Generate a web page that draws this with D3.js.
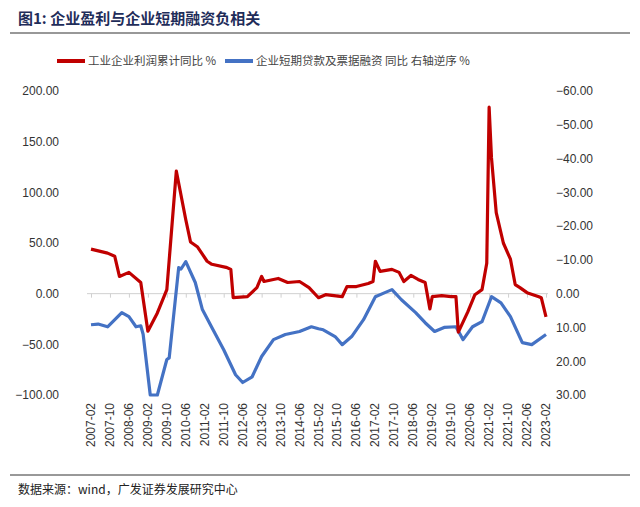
<!DOCTYPE html>
<html><head><meta charset="utf-8">
<script src="https://cdn.jsdelivr.net/npm/d3@7"></script>
<style>body{margin:0;background:#fff;font-family:"Noto Sans CJK SC","Noto Sans",sans-serif}</style>
</head><body><svg id="c" width="640" height="507"></svg>
<script>
// month index from 2007-02
const profitMonths = [0,7,10,12,16,21,24,28,32,36,40,42,45,49,51,57,59,60,66,70,72,73,79,83,88,92,96,99,106,108,112,117,119,120,122,127,130,132,135,138,141,143,144,148,152,154,155,159,162,165,167,168,169,171,174,177,179,181,184,189,190,192];
const profitValues = [44,40,37,17,21,11,-37,-19,4,121,73,51,46,32,29,26,24,-4,-3,6,17,12,15,11,12,6,-4,-1,-3,7,7,10,12,32,22,24,21,12,18,14,11,-15,-3,-2,-3,-3,-38,-18,-1,4,30,184,134,80,50,34,9,6,1,-3,-4,-23];
const loanMonths = [0,3,7,13,16,19,21,22,25,28,32,33,37,38,40,44,47,51,56,61,64,68,72,77,82,88,93,96,98,103,106,110,115,120,124,127,131,137,141,145,149,154,157,161,165,169,173,177,182,186,192];
const loanValues = [9.2,9,9.8,5.6,6.8,9.8,9.5,12,30,30,19.5,19,-7.7,-7.3,-9.5,-3.3,4.7,10,16.6,24,26.3,24.6,18.6,13.6,12.1,11.2,9.8,10.4,10.7,12.7,15.1,12.7,7.7,0.9,-0.3,-1.2,1.8,5.6,8.6,11.2,10,9.8,13.6,9.8,8.3,0.9,2.7,6.8,14.5,15.1,12.1];
const leftTicks = [200,150,100,50,0,-50,-100];
const rightTicks = [-60,-50,-40,-30,-20,-10,0,10,20,30];
const xTickLabels = [];
for(let m=0;m<=192;m+=8){const y=2007+Math.floor((m+1)/12), mo=(m+1)%12+1; xTickLabels.push({m,label:y+"-"+String(mo).padStart(2,"0")});}

const svg=d3.select("#c");
const L=87,R=548,T=91,B=395;
const x=d3.scaleLinear().domain([0,192]).range([91,546]);
const yl=d3.scaleLinear().domain([-100,200]).range([B,T]);
const yr=d3.scaleLinear().domain([-60,30]).range([T,B]);

svg.append("text").attr("x",18).attr("y",24).attr("font-size",15).attr("font-weight","bold").attr("fill","#1f2d5a").text("图1:  企业盈利与企业短期融资负相关");
svg.append("line").attr("x1",10).attr("x2",630).attr("y1",33).attr("y2",33).attr("stroke","#333").attr("stroke-width",1.2);
svg.append("line").attr("x1",10).attr("x2",630).attr("y1",475).attr("y2",475).attr("stroke","#333").attr("stroke-width",1);
svg.append("text").attr("x",18).attr("y",494).attr("font-size",12).attr("fill","#222").text("数据来源：wind，广发证券发展研究中心");

// legend
const lg=svg.append("g").attr("font-size",11.5).attr("fill","#444");
lg.append("line").attr("x1",57).attr("x2",85).attr("y1",61).attr("y2",61).attr("stroke","#c00000").attr("stroke-width",4);
lg.append("text").attr("x",88).attr("y",65).attr("fill","#444").text("工业企业利润累计同比 %");
lg.append("line").attr("x1",225).attr("x2",253).attr("y1",61).attr("y2",61).attr("stroke","#4472c4").attr("stroke-width",4);
lg.append("text").attr("x",256).attr("y",65).attr("fill","#444").text("企业短期贷款及票据融资 同比  右轴逆序 %");

// axes
const al=svg.append("g").attr("transform",`translate(${L},0)`).call(d3.axisLeft(yl).tickValues(leftTicks).tickFormat(d3.format(".2f")).tickSize(0).tickPadding(28));
al.select(".domain").remove();
al.selectAll("text").attr("font-size",12).attr("fill","#333").attr("font-family","Liberation Sans, Arial");
const ar=svg.append("g").attr("transform",`translate(${R},0)`).call(d3.axisRight(yr).tickValues(rightTicks).tickFormat(d3.format(".2f")).tickSize(0).tickPadding(8));
ar.select(".domain").remove();
ar.selectAll("text").attr("font-size",12).attr("fill","#333").attr("font-family","Liberation Sans, Arial");

// zero line with ticks
svg.append("line").attr("x1",L).attr("x2",R).attr("y1",yl(0)).attr("y2",yl(0)).attr("stroke","#d0d0d0");
const xa=svg.append("g").attr("transform",`translate(0,${yl(0)})`).call(d3.axisBottom(x).tickValues(xTickLabels.map(d=>d.m)).tickSize(4).tickFormat(""));
xa.select(".domain").remove();xa.selectAll("line").attr("stroke","#d0d0d0");
svg.append("g").selectAll("text").data(xTickLabels).join("text")
 .attr("transform",d=>`translate(${x(d.m)+4},${B+8}) rotate(-90)`).attr("text-anchor","end")
 .attr("font-size",12).attr("fill","#333").attr("font-family","Liberation Sans, Arial").text(d=>d.label);

const lp=d3.line().x((d,i)=>x(profitMonths[i])).y(d=>yl(d));
const lb=d3.line().x((d,i)=>x(loanMonths[i])).y(d=>yr(d));
svg.append("path").datum(loanValues).attr("d",lb).attr("fill","none").attr("stroke","#4472c4").attr("stroke-width",3.2).attr("stroke-linejoin","round");
svg.append("path").datum(profitValues).attr("d",lp).attr("fill","none").attr("stroke","#c00000").attr("stroke-width",3.2).attr("stroke-linejoin","round");
</script></body></html>
